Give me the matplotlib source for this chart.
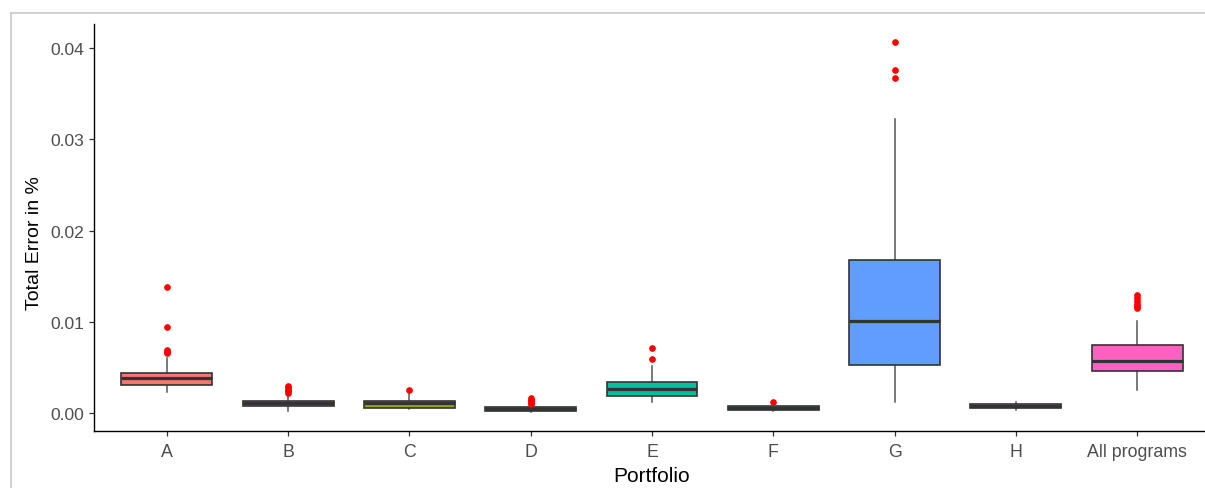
import matplotlib
matplotlib.use("Agg")
import matplotlib.pyplot as plt
from matplotlib.lines import Line2D

plt.rcParams['font.family'] = ['Liberation Sans', 'DejaVu Sans']

categories = ["A", "B", "C", "D", "E", "F", "G", "H", "All programs"]
q1 = [0.00305, 0.00076, 0.00062, 0.00025, 0.00189, 0.00040, 0.00534, 0.00055, 0.00465]
med = [0.00381, 0.00115, 0.00108, 0.00045, 0.00265, 0.00062, 0.01010, 0.00080, 0.00578]
q3 = [0.00436, 0.00134, 0.00134, 0.00069, 0.00345, 0.00084, 0.01682, 0.00101, 0.00744]
whislo = [0.00229, 0.00025, 0.00047, 0.00010, 0.00128, 0.00030, 0.00120, 0.00040, 0.00251]
whishi = [0.00610, 0.00200, 0.00215, 0.00085, 0.00520, 0.00100, 0.03223, 0.00120, 0.01006]
outliers = [
    [0.01384, 0.00948, 0.00690, 0.00670, 0.00655],
    [0.00220, 0.00240, 0.00260, 0.00280, 0.00300],
    [0.00260],
    [0.00100, 0.00115, 0.00130, 0.00145, 0.00165],
    [0.00719, 0.00589],
    [0.00128],
    [0.04062, 0.03757, 0.03673],
    [],
    [0.01290, 0.01260, 0.01230, 0.01200, 0.01170, 0.01150],
]
colors = ["#F8766D", "#D39200", "#93AA00", "#00BA38", "#00C19F",
          "#00B9E3", "#619CFF", "#DB72FB", "#FF61C3"]

fig = plt.figure(figsize=(12.05, 4.89), dpi=100)
ax = fig.add_axes([94 / 1205, (489 - 432) / 489, (1210 - 94) / 1205, (432 - 25) / 489])

stats = []
for i, c in enumerate(categories):
    stats.append(dict(label=c, q1=q1[i], med=med[i], q3=q3[i],
                      whislo=whislo[i], whishi=whishi[i], fliers=outliers[i]))

pos = list(range(1, len(categories) + 1))
bp = ax.bxp(stats, positions=pos, widths=0.75, patch_artist=True, showcaps=False,
            boxprops=dict(edgecolor="#333333", linewidth=1.2),
            medianprops=dict(color="#333333", linewidth=2.3, solid_capstyle="butt"),
            whiskerprops=dict(color="#555555", linewidth=1.1),
            flierprops=dict(marker="o", markerfacecolor="red", markeredgecolor="red",
                            markersize=3.8, linestyle="none"))
for patch, col in zip(bp["boxes"], colors):
    patch.set_facecolor(col)
for w in bp["whiskers"]:
    w.set_zorder(1)

ax.set_xlim(0.4, 9.6)
ax.set_ylim(-0.00194, 0.04263)
ax.set_yticks([0.00, 0.01, 0.02, 0.03, 0.04])
ax.set_yticklabels(["0.00", "0.01", "0.02", "0.03", "0.04"])
ax.set_xticks(pos)
ax.set_xticklabels(categories)

for s in ["top", "right"]:
    ax.spines[s].set_visible(False)
for s in ["left", "bottom"]:
    ax.spines[s].set_color("black")
    ax.spines[s].set_linewidth(1.0)
ax.tick_params(axis="both", length=3.6, width=0.9, color="#333333",
               labelcolor="#4D4D4D")
ax.tick_params(axis="x", labelsize=12.8, pad=5)
ax.tick_params(axis="y", labelsize=12.6, pad=3.5)

ax.set_xlabel("Portfolio", fontsize=15, color="black", labelpad=4.5)
ax.set_ylabel("Total Error in %", fontsize=14, color="black")
ax.yaxis.set_label_coords(-0.0455, 0.464)

# light gray frame of the original image
fig.add_artist(Line2D([10.5 / 1205, 10.5 / 1205], [0, (489 - 13.5) / 489],
                      transform=fig.transFigure, color="#C8C8C8", linewidth=1.2))
fig.add_artist(Line2D([10.5 / 1205, 1], [(489 - 13.5) / 489, (489 - 13.5) / 489],
                      transform=fig.transFigure, color="#C8C8C8", linewidth=1.2))

fig.savefig("out.png", dpi=100)
